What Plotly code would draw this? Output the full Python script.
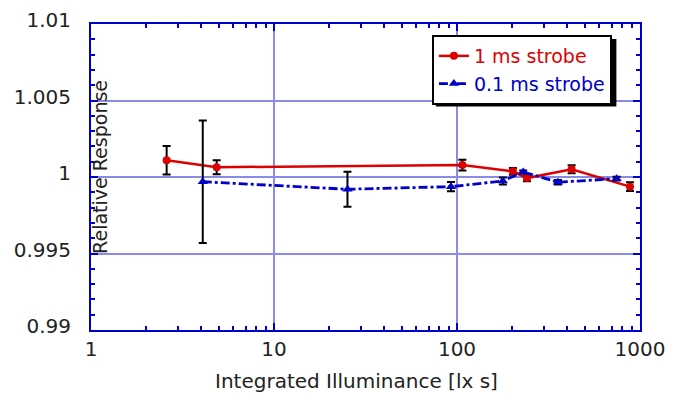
import plotly.graph_objects as go

# 1 ms strobe
x_1ms = [2.59, 4.86, 107, 202, 241, 423, 882]
y_1ms = [1.0011, 1.00064, 1.00078, 1.00037, 0.99993, 1.0005, 0.99937]
e_1ms = [0.00093, 0.00046, 0.00035, 0.00022, 0.0002, 0.00026, 0.00028]

# 0.1 ms strobe
x_01ms = [4.08, 25.2, 92.7, 178, 230, 356, 745]
y_01ms = [0.99969, 0.9992, 0.99937, 0.99974, 1.00033, 0.99966, 0.99989]
e_01ms = [0.0040, 0.00115, 0.0003, 0.00023, 0.0001, 0.00015, 0.00012]

x_ticks = [1, 10, 100, 1000]
x_ticklabels = ["1", "10", "100", "1000"]
y_ticks = [0.99, 0.995, 1.0, 1.005, 1.01]
y_ticklabels = ["0.99", "0.995", "1", "1.005", "1.01"]

RED = "#dd0000"
BLUE = "#0000cc"
GRID = "#8a8ae8"
TXT = "#222222"
FONT = "DejaVu Sans"

fig = go.Figure()
fig.add_trace(go.Scatter(
    x=x_1ms, y=y_1ms, mode="lines+markers",
    name='<span style="color:#dd0000">1 ms strobe</span>',
    line=dict(color=RED, width=2.5),
    marker=dict(symbol="circle", size=8, color=RED),
    error_y=dict(type="data", array=e_1ms, color="black", thickness=2, width=4),
))
fig.add_trace(go.Scatter(
    x=x_01ms, y=y_01ms, mode="lines+markers",
    name='<span style="color:#0000cc">0.1 ms strobe</span>',
    line=dict(color=BLUE, width=2.8, dash="dashdot"),
    marker=dict(symbol="triangle-up", size=9, color=BLUE),
    error_y=dict(type="data", array=e_01ms, color="black", thickness=2, width=4),
))

axis_common = dict(
    showline=True, linecolor=BLUE, linewidth=2, mirror="allticks",
    ticks="inside", tickcolor=BLUE, tickwidth=2, ticklen=7,
    showgrid=True, gridcolor=GRID, gridwidth=2, zeroline=False,
    tickfont=dict(family=FONT, size=20, color=TXT),
    automargin=False, ticklabeloverflow="allow",
)

fig.update_xaxes(
    type="log", range=[0, 3], tickvals=x_ticks, ticktext=x_ticklabels,
    minor=dict(ticks="inside", ticklen=4, tickcolor=BLUE, tickwidth=2,
               tickvals=[m * 10**d for d in range(3) for m in range(2, 10)], showgrid=False),
    **axis_common,
)
fig.update_yaxes(
    range=[0.99, 1.01], tickvals=y_ticks, ticktext=y_ticklabels,
    minor=dict(ticks="inside", ticklen=4, tickcolor=BLUE, tickwidth=2, dtick=0.001, showgrid=False),
    ticklabelshift=-4, ticklabelstandoff=14,
    **axis_common,
)

fig.add_annotation(
    text="Relative Response", textangle=-90, xref="paper", yref="paper",
    x=0, y=0.533, xanchor="left", yanchor="middle", xshift=-4, showarrow=False,
    font=dict(family=FONT, size=19, color=TXT),
)
fig.add_annotation(
    text="Integrated Illuminance [lx s]", xref="paper", yref="paper",
    x=0.483, y=0, xanchor="center", yanchor="middle", yshift=-51, showarrow=False,
    font=dict(family=FONT, size=20, color=TXT),
)

# legend drop shadow
fig.add_shape(type="rect", xref="paper", yref="paper",
              x0=0.628, x1=0.957, y0=0.730, y1=0.951,
              fillcolor="black", line=dict(width=0), layer="above")

fig.update_layout(
    width=676, height=386,
    margin=dict(l=83, r=44, t=16, b=64),
    paper_bgcolor="white", plot_bgcolor="white",
    showlegend=True,
    legend=dict(x=0.621, y=0.964, xanchor="left", yanchor="top",
                bgcolor="white", bordercolor="black", borderwidth=2,
                font=dict(family=FONT, size=19), tracegroupgap=0,
                itemwidth=30),
    font=dict(family=FONT),
)

fig.write_html("out.html")
